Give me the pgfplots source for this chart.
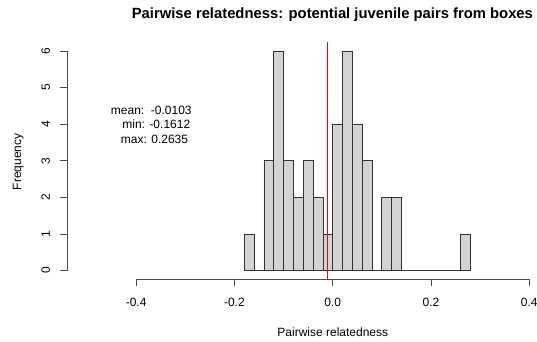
\documentclass[border=0pt]{standalone}
\usepackage{fontspec}
\setmainfont{Liberation Sans}
\usepackage{xcolor}
\usepackage{pgfplots}
\pgfplotsset{compat=1.18}
\definecolor{barfill}{RGB}{211,211,211}
\definecolor{meanline}{rgb}{1,0,0}
\begin{document}
\fontsize{12}{14}\selectfont
\begin{tikzpicture}[x=1pt,y=1pt]
\path[use as bounding box] (0,0) rectangle (537,341);
\begin{scope}
\clip (0,0) rectangle (537,341);
\begin{axis}[
  at={(67.3pt,61.7pt)}, anchor=south west,
  scale only axis, width=530.7pt, height=237.2pt,
  xmin=-0.54, xmax=0.54, ymin=-0.24, ymax=6.24,
  axis lines=none, clip=false,
]
\addplot[ybar interval, fill=barfill, draw=black!80, line width=0.6pt] coordinates {
(-0.18,1) (-0.16,0) (-0.14,3) (-0.12,6) (-0.10,3) (-0.08,2) (-0.06,3) (-0.04,2) (-0.02,1)
(0.00,4) (0.02,6) (0.04,4) (0.06,3) (0.08,0) (0.10,2) (0.12,2)
(0.14,0) (0.16,0) (0.18,0) (0.20,0) (0.22,0) (0.24,0) (0.26,1) (0.28,1)
};
% x axis
\draw[black!70, line width=0.6pt] (axis cs:-0.4,-0.24) -- (axis cs:0.4,-0.24);
\pgfplotsinvokeforeach{-0.4,-0.2,0,0.2,0.4}{
  \draw[black!70, line width=0.6pt] (axis cs:#1,-0.24) -- ([yshift=-7pt]axis cs:#1,-0.24);
}
\node[inner sep=0pt] at ([yshift=-23.4pt]axis cs:-0.4,-0.24) {-0.4};
\node[inner sep=0pt] at ([yshift=-23.4pt]axis cs:-0.2,-0.24) {-0.2};
\node[inner sep=0pt] at ([yshift=-23.4pt]axis cs:0,-0.24) {0.0};
\node[inner sep=0pt] at ([yshift=-23.4pt]axis cs:0.2,-0.24) {0.2};
\node[inner sep=0pt] at ([yshift=-23.4pt]axis cs:0.4,-0.24) {0.4};
% y axis
\draw[black!70, line width=0.6pt] (axis cs:-0.54,0) -- (axis cs:-0.54,6);
\pgfplotsinvokeforeach{0,1,2,3,4,5,6}{
  \draw[black!70, line width=0.6pt] (axis cs:-0.54,#1) -- ([xshift=-7pt]axis cs:-0.54,#1);
  \node[inner sep=0pt, rotate=90] at ([xshift=-21.5pt]axis cs:-0.54,#1) {#1};
}
\end{axis}
\begin{axis}[
  at={(67.3pt,61.7pt)}, anchor=south west,
  scale only axis, width=530.7pt, height=237.2pt,
  xmin=-0.54, xmax=0.54, ymin=-0.24, ymax=6.24,
  axis lines=none, clip=false,
]
\addplot[draw=meanline, line width=1.2pt, mark=none] coordinates {(-0.0103,-0.24) (-0.0103,6.24)};
\end{axis}
\end{scope}
\node[font=\fontsize{14.8}{17}\selectfont\bfseries] at (332.4,326) {Pairwise relatedness: potential juvenile pairs from boxes};
\node[inner sep=0pt] at (151.3,231) {mean:~~-0.0103};
\node[inner sep=0pt] at (156.3,216.7) {min: -0.1612};
\node[inner sep=0pt] at (154.5,202) {max: 0.2635};
\node[inner sep=0pt] at (332.8,8.3) {Pairwise relatedness};
\node[inner sep=0pt, rotate=90] at (18.3,179.3) {Frequency};
\end{tikzpicture}
\end{document}
